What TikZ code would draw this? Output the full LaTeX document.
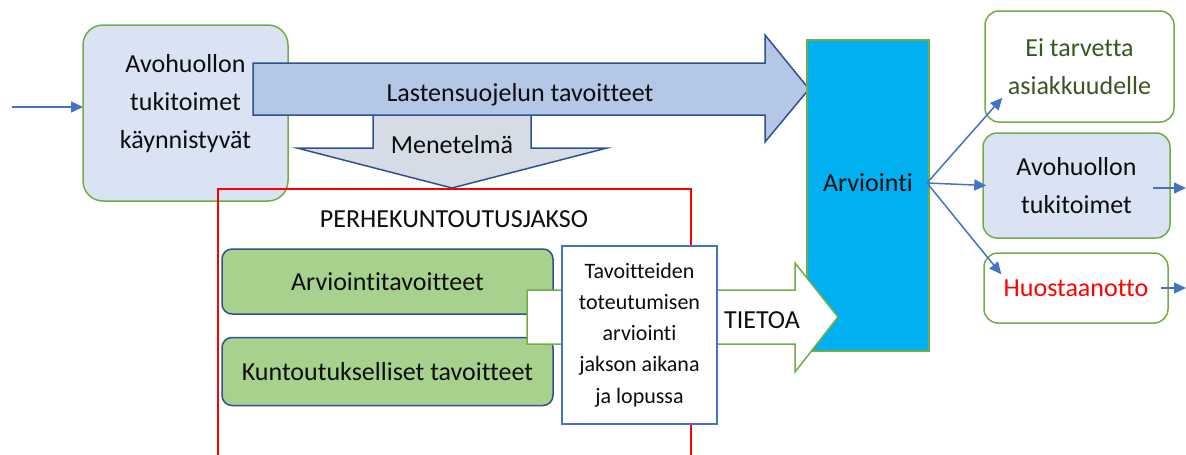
\documentclass[tikz,border=0pt]{standalone}
\usepackage{fontspec}
\setmainfont{Carlito}[Ligatures=NoCommon]
\usetikzlibrary{arrows.meta,calc}
\definecolor{lblue}{RGB}{218,227,243}
\definecolor{gborder}{RGB}{112,173,71}
\definecolor{arrfill}{RGB}{180,199,231}
\definecolor{darkblue}{RGB}{47,82,143}
\definecolor{metfill}{RGB}{214,220,229}
\definecolor{gfill}{RGB}{169,209,142}
\definecolor{cyanbox}{RGB}{0,176,240}
\definecolor{lineblue}{RGB}{68,114,196}
\definecolor{dgreen}{RGB}{56,87,35}
\definecolor{txt}{RGB}{13,13,13}
\tikzset{
  bigtxt/.style={font=\fontsize{26}{38}\selectfont, text=txt, align=center, inner sep=0pt},
  smalltxt/.style={font=\fontsize{22}{31.2}\selectfont, text=txt, align=center, inner sep=0pt},
  avobox/.style={draw=gborder, fill=lblue, line width=1.5pt, rounded corners=20pt},
  rbox/.style={draw=gborder, line width=1.5pt, rounded corners=14pt, inner sep=0pt},
  gbox/.style={draw=darkblue, fill=gfill, line width=1.5pt, rounded corners=10pt, inner sep=0pt},
  blockarrow/.style={line width=1.5pt, line join=miter},
  conn/.style={draw=lineblue, line width=1.5pt, -{Triangle[length=12pt,width=11pt]}},
}
\begin{document}
\begin{tikzpicture}[x=1pt,y=-1pt]
\useasboundingbox (0,0) rectangle (1186,455);
% left box
\node[avobox, minimum width=205pt, minimum height=176pt] (avo) at (185.5,113) {};
\node[bigtxt] (avoT) at (185.5,103.5) {Avohuollon\\tukitoimet\\käynnistyvät};
\coordinate (in0) at (12,107);
\coordinate (in1) at (83,107);
\draw[conn] (in0) -- (in1);
% Menetelma arrow
\draw[blockarrow, draw=darkblue, fill=metfill] (373,112) -- (531,112) -- (531,148) -- (607,148) -- (452,188) -- (297,148) -- (373,148) -- cycle;
\node[bigtxt] (metT) at (452,145) {Menetelmä};
% Lastensuojelun arrow
\draw[blockarrow, draw=darkblue, fill=arrfill] (253,63) -- (765,63) -- (765,35) -- (809,89) -- (765,142) -- (765,115) -- (253,115) -- cycle;
\node[bigtxt] (lasT) at (520,95) {Lastensuojelun tavoitteet};
% red frame
\draw[red, line width=1.5pt] (218,456) -- (218,189) -- (691,189) -- (691,456);
\node[bigtxt] (perT) at (454,219) {PERHEKUNTOUTUSJAKSO};
% Arviointi
\node[draw=gborder, fill=cyanbox, line width=1.5pt, minimum width=122pt, minimum height=311pt, inner sep=0pt] (arv) at (868,195.5) {};
\node[bigtxt] (arvT) at (868,183) {Arviointi};
% green boxes
\node[gbox, minimum width=331pt, minimum height=65pt, bigtxt] (ga) at (387.5,281.5) {Arviointitavoitteet};
\node[gbox, minimum width=331pt, minimum height=68pt, bigtxt] (gb) at (387.5,371.5) {Kuntoutukselliset tavoitteet};
% TIETOA arrow
\draw[blockarrow, draw=gborder, fill=white] (527,290) -- (795,290) -- (795,263) -- (838,317) -- (795,372) -- (795,344) -- (527,344) -- cycle;
\node[bigtxt] (tieT) at (762,320) {TIETOA};
% Tavoitteiden box
\node[draw=lineblue, fill=white, line width=1.5pt, minimum width=155pt, minimum height=178pt, smalltxt] (tav) at (639.5,335) {Tavoitteiden\\toteutumisen\\arviointi\\jakson aikana\\ja lopussa};
% right boxes
\node[rbox, fill=white, minimum width=189pt, minimum height=111pt, bigtxt, text=dgreen] (r1) at (1079.5,66.5) {Ei tarvetta\\asiakkuudelle};
\node[rbox, fill=lblue, minimum width=187pt, minimum height=105pt, bigtxt] (r2) at (1076.5,185.5) {Avohuollon\\tukitoimet};
\node[rbox, fill=white, minimum width=184pt, minimum height=70pt, bigtxt, text=red] (r3) at (1076,288) {Huostaanotto};
% connectors
\coordinate (a0) at (927,183);
\draw[conn] (a0) -- ($(r1.south west)+(18,-25)$);
\draw[conn] (a0) -- ($(r2.west)+(4,0)$);
\draw[conn] (a0) -- ($(r3.north west)+(18,22)$);
\coordinate (o1) at (1186,188);
\coordinate (o2) at (1186,288);
\draw[conn] ($(r2.east)+(-18,2.5)$) -- (o1);
\draw[conn] ($(r3.east)+(-8,0)$) -- (o2);
\end{tikzpicture}
\end{document}
